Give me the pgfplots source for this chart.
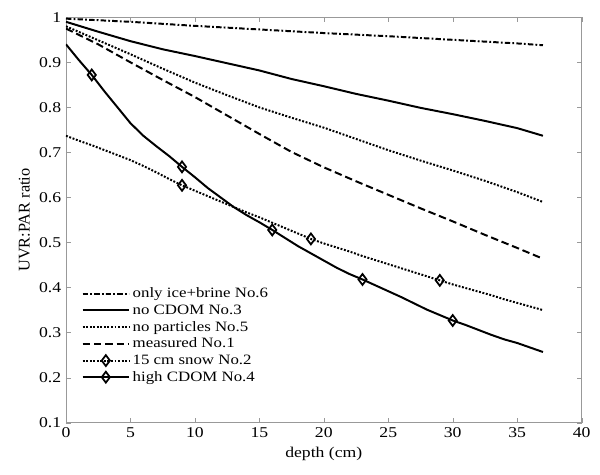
\documentclass[border=0pt]{standalone}
\usepackage{fontspec}
\setmainfont{Liberation Serif}
\usepackage{graphicx}
\usepackage{pgfplots}
\pgfplotsset{compat=1.18}
\newcommand{\sx}[1]{\scalebox{1.18}[1]{#1}}
\begin{document}
\begin{tikzpicture}
\begin{axis}[
  scale only axis, width=379pt, height=298pt,
  xmin=0, xmax=40, ymin=0.1, ymax=1,
  xtick={0,5,10,15,20,25,30,35,40},
  ytick={0.1,0.2,0.3,0.4,0.5,0.6,0.7,0.8,0.9,1},
  tick align=inside, major tick length=3.5pt,
  axis line style={gray!80}, major tick style={gray!80},
  /pgf/number format/assume math mode=true,
  xticklabel={\sx{\pgfmathprintnumber{\tick}}},
  yticklabel={\sx{\pgfmathprintnumber[fixed,precision=1]{\tick}}},
  tick label style={font=\fontsize{11}{13}\selectfont},
  label style={font=\fontsize{11}{13}\selectfont},
  ylabel style={font=\fontsize{12}{14}\selectfont},
  xlabel={\sx{depth (cm)}}, ylabel={UVR:PAR ratio},
  legend style={draw=none, fill=none, at={(0.03,0.34)}, anchor=north west,
    font=\fontsize{10.5}{12}\selectfont, row sep=-0.4pt, inner sep=0pt},
  legend cell align=left,
  legend image code/.code={\draw[#1, mark indices={2}] plot coordinates {(0pt,0pt)(17pt,0pt)(34pt,0pt)};},
]
% only ice+brine No.6
\addplot[black, line width=1.45pt, dash pattern=on 4pt off 1.6pt on 1.3pt off 1.6pt] coordinates {
(0,0.997)(5,0.99)(10,0.981)(15,0.973)(20,0.965)(25,0.958)(30,0.95)(35,0.942)(37,0.938)};
\addlegendentry{\sx{only ice+brine No.6}}
% no CDOM No.3
\addplot[black, line width=1.45pt, solid] coordinates {
(0,0.99)(2.5,0.968)(5,0.947)(7.5,0.929)(10,0.914)(12.5,0.898)(15,0.882)(17.5,0.863)(20,0.847)(22.5,0.83)(25,0.815)(27.5,0.799)(30,0.785)(32.5,0.77)(35,0.754)(37,0.737)};
\addlegendentry{\sx{no CDOM No.3}}
% no particles No.5
\addplot[black, line width=1.45pt, dash pattern=on 1.4pt off 1.2pt] coordinates {
(0,0.98)(2.5,0.949)(5,0.918)(7.5,0.886)(10,0.855)(12.5,0.827)(15,0.8)(17.5,0.777)(20,0.755)(22.5,0.73)(25,0.705)(27.5,0.682)(30,0.66)(32.5,0.637)(35,0.612)(37,0.59)};
\addlegendentry{\sx{no particles No.5}}
% measured No.1
\addplot[black, line width=1.45pt, dash pattern=on 5.5pt off 2.8pt] coordinates {
(0,0.975)(2.5,0.94)(5,0.9)(7.5,0.861)(10,0.823)(12.5,0.782)(15,0.741)(17.5,0.701)(20,0.667)(22.5,0.636)(25,0.606)(27.5,0.576)(30,0.547)(32.5,0.517)(35,0.488)(37,0.464)};
\addlegendentry{\sx{measured No.1}}
% 15 cm snow No.2
\addplot[black, line width=1.45pt, dash pattern=on 1.4pt off 1.2pt, mark=diamond, mark size=4pt, mark indices={10,20,30},
  mark options={solid, line width=1.3pt, fill=none}] coordinates {
(0,0.737)(1,0.726)(2,0.716)(3,0.705)(4,0.694)(5,0.683)(6,0.67)(7,0.656)(8,0.641)(9,0.627)
(10,0.615)(11,0.603)(12,0.591)(13,0.579)(14,0.567)(15,0.556)(16,0.544)(17,0.532)(18,0.52)(19,0.508)
(20,0.498)(21,0.489)(22,0.48)(23,0.47)(24,0.461)(25,0.452)(26,0.443)(27,0.434)(28,0.425)(29,0.416)
(30,0.407)(31,0.399)(32,0.391)(33,0.383)(34,0.374)(35,0.366)(36,0.358)(37,0.35)};
\addlegendentry{\sx{15 cm snow No.2}}
% high CDOM No.4
\addplot[black, line width=1.45pt, solid, mark=diamond, mark size=4pt, mark indices={3,10,17,24,31},
  mark options={solid, line width=1.3pt, fill=none}] coordinates {
(0,0.94)(1,0.905)(2,0.872)(3,0.835)(4,0.8)(5,0.765)(6,0.737)(7,0.714)(8,0.692)(9,0.668)
(10,0.645)(11,0.621)(12,0.6)(13,0.579)(14,0.561)(15,0.545)(16,0.528)(17,0.51)(18,0.492)(19,0.476)
(20,0.46)(21,0.444)(22,0.43)(23,0.418)(24,0.405)(25,0.392)(26,0.379)(27,0.365)(28,0.351)(29,0.339)
(30,0.327)(31,0.317)(32,0.306)(33,0.295)(34,0.285)(35,0.277)(36,0.267)(37,0.257)};
\addlegendentry{\sx{high CDOM No.4}}
\end{axis}
\path (current axis.south west) ++(-48.5pt,-38.4pt) rectangle ++(441pt,349.1pt);
\end{tikzpicture}
\end{document}
